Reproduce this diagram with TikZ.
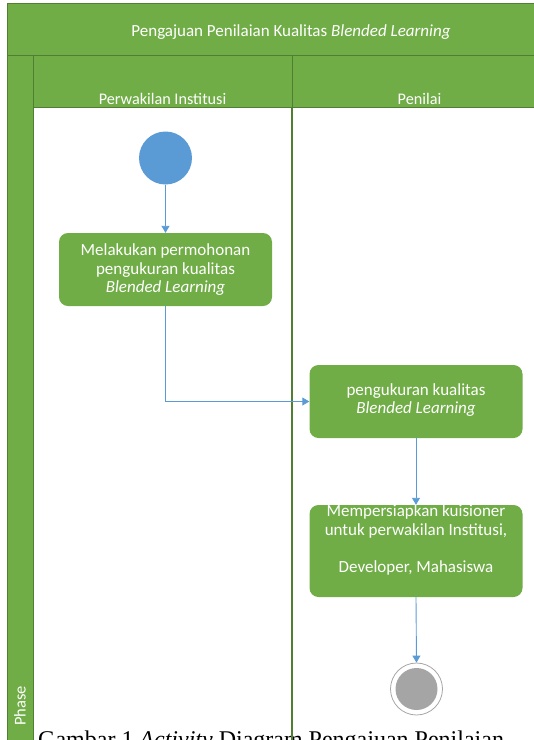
\documentclass[tikz,border=0pt]{standalone}
\usepackage{fontspec}
\setmainfont{Carlito}
\newfontfamily\capfont{Liberation Serif}
\usetikzlibrary{arrows.meta,positioning}
\definecolor{lanegreen}{HTML}{70AD47}
\definecolor{laneborder}{HTML}{507E32}
\definecolor{flowblue}{HTML}{5B9BD5}
\definecolor{endgray}{HTML}{A5A5A5}
\tikzset{
  x=1pt, y=-1pt,
  lanefill/.style={fill=lanegreen, draw=laneborder, line width=1pt},
  hdrtext/.style={text=white, font=\fontsize{16.2}{18}\selectfont, inner sep=0pt, anchor=base},
  actbox/.style={fill=lanegreen, draw=none, rounded corners=9pt, minimum width=213pt, inner sep=0pt},
  acttext/.style={text=white, align=center, font=\fontsize{17}{18.5}\selectfont, inner sep=0pt},
  flow/.style={draw=flowblue, line width=0.9pt, -{Triangle[width=8pt,length=7pt]}},
}
\begin{document}
\begin{tikzpicture}
\useasboundingbox (0,0) rectangle (534,740);
% caption (cut off at the bottom)
\node[font=\capfont\fontsize{24}{26}\selectfont, anchor=base west, inner sep=0pt] (cap) at (38,747) {Gambar 1 \textit{Activity} Diagram Pengajuan Penilaian};
% pool title
\draw[lanefill] (7,3) rectangle (580,55);
\node[hdrtext, font=\fontsize{17}{18}\selectfont] (title) at (291,36) {Pengajuan Penilaian Kualitas \textit{Blended Learning}};
% phase column
\draw[lanefill] (7,55) rectangle (33,760);
\node[text=white, font=\fontsize{16.5}{18}\selectfont, rotate=90, inner sep=0pt] (phase) at (20,706) {Phase};
% lane headers
\draw[lanefill] (33,55) rectangle (292,107);
\draw[lanefill] (292,55) rectangle (580,107);
\node[hdrtext] (lane1) at (162.5,104) {Perwakilan Institusi};
\node[hdrtext] (lane2) at (419.5,104) {Penilai};
% lane divider
\draw[draw=laneborder, line width=1.2pt] (292,107) -- (292,760);
% activities
\node[circle, fill=flowblue, minimum size=53pt, inner sep=0pt] (init) at (165.5,158) {};
\node[actbox, minimum height=73pt] (b1) at (165.5,269.5) {};
\node[acttext] (t1) at (165.5,270) {Melakukan permohonan\\pengukuran kualitas\\\textit{Blended Learning}};
\node[actbox, minimum height=73pt] (b2) at (416,401.5) {};
\node[acttext] (t2) at (416,400) {pengukuran kualitas\\\textit{Blended Learning}};
\node[actbox, minimum height=92pt] (b3) at (416,551) {};
\node[acttext] (t3) at (416,540) {Mempersiapkan kuisioner\\untuk perwakilan Institusi,\\[18.5pt]Developer, Mahasiswa};
\node[circle, draw=endgray, line width=0.8pt, minimum size=52pt, inner sep=0pt] (final) at (416.5,689) {};
\node[circle, fill=endgray, minimum size=42pt, inner sep=0pt] (finalin) at (final.center) {};
% flows
\draw[flow] (init.south) -- (b1.north);
\draw[flow] (b1.south) |- (b2.west);
\draw[flow] (b2.south) -- (b3.north);
\draw[flow] (b3.south) -- (final.north);
\end{tikzpicture}
\end{document}
